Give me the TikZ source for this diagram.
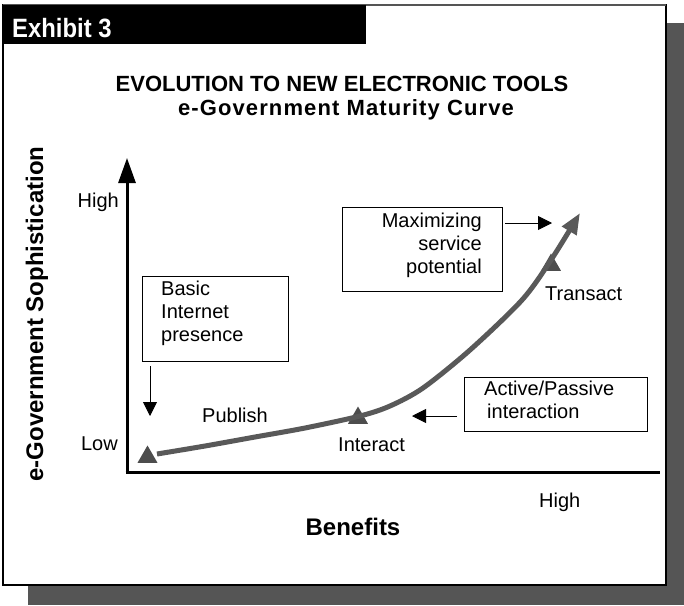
\documentclass[tikz,border=0pt]{standalone}
\usepackage{fontspec}
\setmainfont{Liberation Sans}
\newfontfamily\narrowfont[FakeStretch=0.9]{Liberation Sans}
\newfontfamily\spacedfont[LetterSpace=5]{Liberation Sans}
\usetikzlibrary{arrows.meta,shapes.geometric}
\definecolor{shadowgray}{HTML}{555555}
\definecolor{curvegray}{HTML}{595959}
\definecolor{markgray}{HTML}{4D4D4D}

\begin{document}
\begin{tikzpicture}[x=1pt,y=-1pt,
  lbl/.style={font=\fontsize{20}{23}\selectfont, inner sep=0pt},
  boxframe/.style={draw=black, line width=1pt, inner sep=0pt, anchor=north west},
  boxtext/.style={font=\fontsize{20}{23}\selectfont, inner sep=0pt},
  pointer/.style={draw=black, line width=0.9pt, -{Triangle[length=14pt,width=14pt]}},
  axisline/.style={draw=black, line width=3pt},
  stage/.style={regular polygon, regular polygon sides=3, fill=markgray,
    minimum size=23pt, inner sep=0pt},
  maturity/.style={draw=curvegray, line width=5pt,
    -{Triangle[length=21pt,width=16pt]}},
  heading/.style={inner sep=0pt, anchor=base},
  axistitle/.style={font=\bfseries\fontsize{24}{28}\selectfont, inner sep=0pt, anchor=base}]

\useasboundingbox (0,0) rectangle (684,605);

% drop shadow and panel
\fill[shadowgray] (28,23) rectangle (684,605);
\draw[fill=white, line width=1.6pt] (3,5) rectangle (666,585);
\draw[shadowgray, line width=1.6pt] (3,5) -- (666,5);

% exhibit tab
\fill[black] (3,5) rectangle (366,44);
\node[anchor=base west, inner sep=0pt, text=white,
  font=\narrowfont\bfseries\fontsize{26.5}{30}\selectfont] (tab) at (12,37) {Exhibit 3};

% titles
\node[heading, font=\bfseries\fontsize{22}{26}\selectfont] (title) at (342,91)
  {EVOLUTION TO NEW ELECTRONIC TOOLS};
\node[heading, font=\spacedfont\bfseries\fontsize{22}{26}\selectfont] (subtitle) at (346,115)
  {e-Government Maturity Curve};

% axes
\coordinate (origin) at (127,472);
\coordinate (ytop) at (127,158);
\coordinate (xend) at (660,472);
\draw[axisline, -{Triangle[length=25pt,width=17pt]}] (origin) -- (ytop);
\draw[axisline] ([xshift=-1.5pt]origin) -- (xend);

\node[axistitle, rotate=90] (ylabel) at (43,314) {e-Government Sophistication};
\node[axistitle] (xlabel) at (353,535) {Benefits};
\node[lbl, anchor=base east] (yhigh) at (119,207) {High};
\node[lbl, anchor=base east] (ylow) at (118,450) {Low};
\node[lbl, anchor=base west] (xhigh) at (539,507) {High};

% stage markers
\node[stage] (low) at (147.5,457) {};
\node[stage] (interact) at (358,418) {};
\node[stage] (transact) at (551,265) {};

% maturity curve
\draw[maturity] plot[smooth, tension=0.5] coordinates
  {(157,454) (205,446) (255,437) (305,428) (360,416) (390,406) (423,388)
   (470,350) (522,300) (551,260) (580,213)};

\node[lbl, anchor=base west] (publish) at (202,422) {Publish};
\node[lbl, anchor=base west] (interactlbl) at (338,451) {Interact};
\node[lbl, anchor=base west] (transactlbl) at (545,300) {Transact};

% callout boxes
\node[boxframe, minimum width=146pt, minimum height=85pt] (basic) at (142,276) {};
\node[boxtext, text width=110pt, align=left, anchor=base west] (basictext) at (161,295)
  {Basic\\Internet\\presence};

\node[boxframe, minimum width=160pt, minimum height=84pt] (maxbox) at (342,207) {};
\node[boxtext, text width=130pt, align=right, anchor=base east] (maxtext) at (482,227)
  {Maximizing\\service\\potential};

\node[boxframe, minimum width=183pt, minimum height=54pt] (active) at (464,377) {};
\node[boxtext, text width=150pt, align=left, anchor=base west] (activetext) at (484,395)
  {Active/Passive\\\hspace*{3pt}interaction};

% pointers
\coordinate (basictail) at (150,366);
\coordinate (basictip) at (150,416);
\coordinate (maxtail) at (505,223);
\coordinate (maxtip) at (552,223);
\coordinate (activetail) at (457,416);
\coordinate (activetip) at (412,416);
\draw[pointer] (basictail) -- (basictip);
\draw[pointer] (maxtail) -- (maxtip);
\draw[pointer] (activetail) -- (activetip);

\end{tikzpicture}
\end{document}
